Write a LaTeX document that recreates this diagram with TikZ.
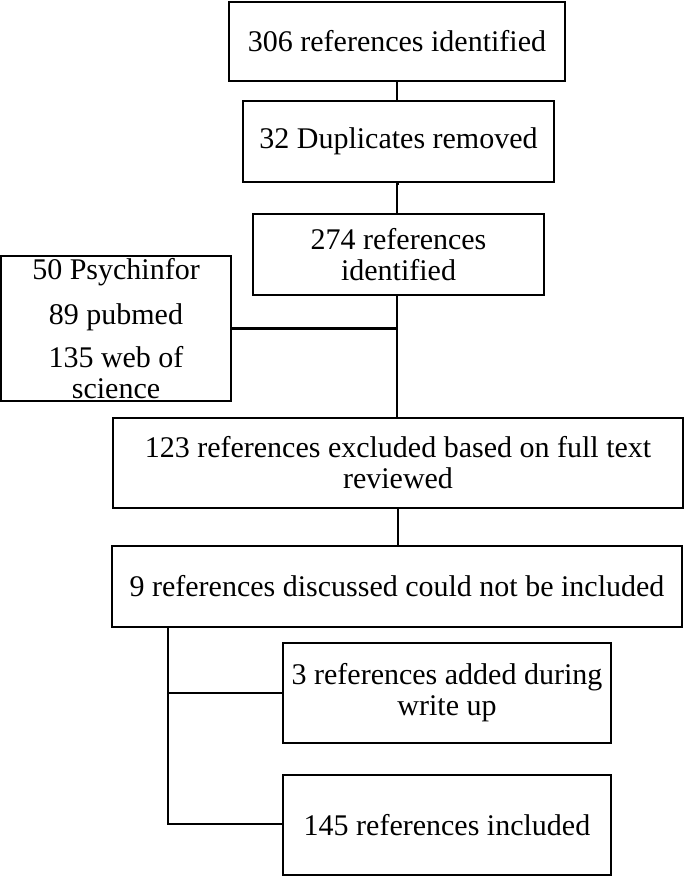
\documentclass[tikz,border=0pt]{standalone}
\usepackage{fontspec}
\setmainfont{Liberation Serif}
\usetikzlibrary{calc}
\begin{document}
\begin{tikzpicture}[x=1pt,y=1pt,
  box/.style={draw=black,line width=2.5pt,inner sep=0pt,align=center,
    font=\fontsize{30}{31}\selectfont},
  conn/.style={draw=black,line width=2.5pt},
  thinconn/.style={draw=black,line width=1.5pt}]
\useasboundingbox (0,0) rectangle (685,-876);
\node[box,minimum width=336pt,minimum height=79pt] (b1) at (397,-41.5) {306 references identified};
\node[box,minimum width=311pt,minimum height=81pt] (b2) at (398.5,-141.5) {32 Duplicates removed};
\node[box,minimum width=291pt,minimum height=81pt] (b3) at (398.5,-254.5) {274 references\\identified};
\node[box,minimum width=230pt,minimum height=145pt] (src) at (116,-328.5) {50 Psychinfor\\[14pt]89 pubmed\\[12pt]135 web of\\science};
\node[box,minimum width=570pt,minimum height=90pt] (b4) at (398,-463) {123 references excluded based on full text\\reviewed};
\node[box,minimum width=570pt,minimum height=81pt] (b5) at (397,-586.5) {9 references discussed could not be included};
\node[box,minimum width=328pt,minimum height=100pt] (b6) at (447,-693) {3 references added during\\write up};
\node[box,minimum width=328pt,minimum height=100pt] (b7) at (447,-825) {145 references included};
\draw[conn] (b1.south) -- (b1.south |- b2.north);
\draw[conn] (b2.south) -- (b2.south -| b1.south) -- (b1.south |- b3.north);
\draw[conn] (b1.south |- b3.south) -- (b1.south |- b4.north);
\draw[conn] (src.east) -- (src.east -| b1.south);
\draw[conn] (b4.south) -- (b4.south |- b5.north);
\coordinate (br) at ($(b5.south west)+(57pt,0)$);
\draw[conn] (br) |- (b6.west);
\draw[thinconn] (br) |- ($(b7.west)+(0,1pt)$);
\end{tikzpicture}
\end{document}
